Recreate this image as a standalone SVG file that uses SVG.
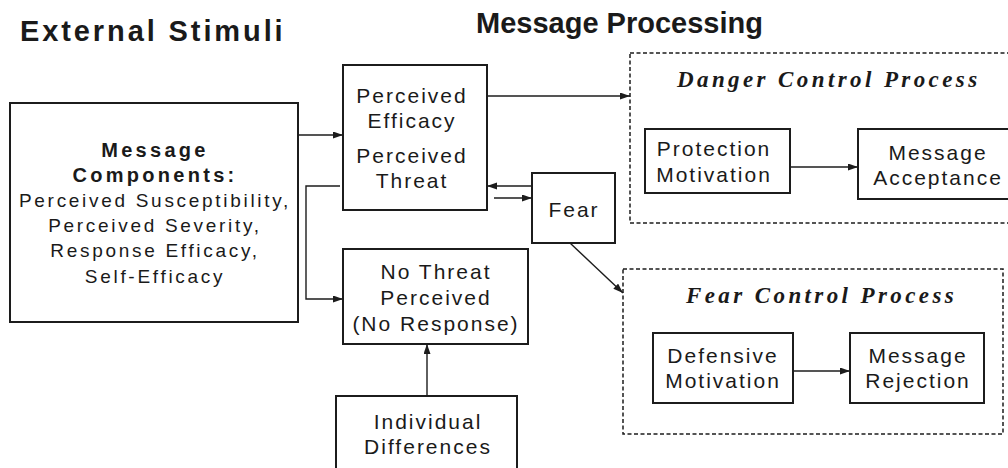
<svg xmlns="http://www.w3.org/2000/svg" width="1008" height="468" viewBox="0 0 1008 468">
<style>
  .box { fill: #ffffff; stroke: #1c1c1c; stroke-width: 2; }
  .dash { fill: none; stroke: #1c1c1c; stroke-width: 1.5; stroke-dasharray: 4 2.5; }
  .head { font-family: "Liberation Sans", Arial, sans-serif; font-weight: bold; font-size: 29px; fill: #1a1a1a; }
  .node { font-family: "Liberation Sans", Arial, sans-serif; font-size: 21px; letter-spacing: 2px; fill: #1a1a1a; text-anchor: middle; }
  .mc { font-family: "Liberation Sans", Arial, sans-serif; font-size: 19px; letter-spacing: 2.7px; fill: #1a1a1a; text-anchor: middle; }
  .mcb { font-family: "Liberation Sans", Arial, sans-serif; font-size: 20px; font-weight: bold; letter-spacing: 3.3px; fill: #1a1a1a; text-anchor: middle; }
  .title { font-family: "Liberation Serif", "Times New Roman", serif; font-size: 23px; font-weight: bold; font-style: italic; letter-spacing: 3.4px; fill: #1a1a1a; }
  .conn { fill: none; stroke: #1c1c1c; stroke-width: 1.4; }
</style>
<defs>
  <marker id="arr" markerUnits="userSpaceOnUse" markerWidth="11" markerHeight="8" refX="10" refY="3.5" orient="auto">
    <path d="M0,0 L10,3.5 L0,7 z" fill="#1c1c1c"/>
  </marker>
</defs>
<rect width="1008" height="468" fill="#ffffff"/>

<text class="head" x="20" y="41" letter-spacing="2.9">External Stimuli</text>
<text class="head" x="476" y="33" letter-spacing="0">Message Processing</text>

<g id="message-components">
  <rect class="box" x="10" y="103" width="288" height="219"/>
  <text class="mcb" x="155" y="157">Message</text>
  <text class="mcb" x="155" y="182">Components:</text>
  <text class="mc" x="155" y="207">Perceived Susceptibility,</text>
  <text class="mc" x="155" y="232">Perceived Severity,</text>
  <text class="mc" x="155" y="257">Response Efficacy,</text>
  <text class="mc" x="155" y="283">Self-Efficacy</text>
</g>

<g id="perceived">
  <rect class="box" x="343" y="65" width="144" height="145"/>
  <text class="node" x="412" y="103">Perceived</text>
  <text class="node" x="412" y="128">Efficacy</text>
  <text class="node" x="412" y="163">Perceived</text>
  <text class="node" x="412" y="188">Threat</text>
</g>

<g id="fear">
  <rect class="box" x="532" y="173" width="83" height="70"/>
  <text class="node" x="574" y="217">Fear</text>
</g>

<g id="no-threat">
  <rect class="box" x="343" y="249" width="185" height="95"/>
  <text class="node" x="436" y="279">No Threat</text>
  <text class="node" x="436" y="305">Perceived</text>
  <text class="node" x="436" y="331">(No Response)</text>
</g>

<g id="individual-differences">
  <rect class="box" x="336" y="396" width="181" height="80"/>
  <text class="node" x="428" y="429">Individual</text>
  <text class="node" x="428" y="454">Differences</text>
</g>

<g id="danger-control">
  <rect class="dash" x="630" y="53" width="385" height="170"/>
  <text class="title" x="677" y="87">Danger Control Process</text>
</g>

<g id="protection-motivation">
  <rect class="box" x="645" y="129" width="145" height="64"/>
  <text class="node" x="714" y="156">Protection</text>
  <text class="node" x="714" y="182">Motivation</text>
</g>

<g id="message-acceptance">
  <rect class="box" x="858" y="129" width="160" height="70"/>
  <text class="node" x="938" y="160">Message</text>
  <text class="node" x="938" y="185">Acceptance</text>
</g>

<g id="fear-control">
  <rect class="dash" x="623" y="269" width="380" height="165"/>
  <text class="title" x="686" y="303">Fear Control Process</text>
</g>

<g id="defensive-motivation">
  <rect class="box" x="653" y="333" width="140" height="70"/>
  <text class="node" x="723" y="363">Defensive</text>
  <text class="node" x="723" y="388">Motivation</text>
</g>

<g id="message-rejection">
  <rect class="box" x="850" y="333" width="134" height="70"/>
  <text class="node" x="918" y="363">Message</text>
  <text class="node" x="918" y="388">Rejection</text>
</g>

<g id="connectors">
  <line class="conn" x1="298" y1="135" x2="343" y2="135" marker-end="url(#arr)"/>
  <path class="conn" d="M340,186 H306 V299 H343" marker-end="url(#arr)"/>
  <line class="conn" x1="487" y1="96" x2="630" y2="96" marker-end="url(#arr)"/>
  <line class="conn" x1="532" y1="186" x2="487" y2="186" marker-end="url(#arr)"/>
  <line class="conn" x1="494" y1="198" x2="532" y2="198" marker-end="url(#arr)"/>
  <line class="conn" x1="570" y1="243" x2="623" y2="293" marker-end="url(#arr)"/>
  <line class="conn" x1="790" y1="167" x2="858" y2="167" marker-end="url(#arr)"/>
  <line class="conn" x1="793" y1="371" x2="850" y2="371" stroke-width="2.2" marker-end="url(#arr)"/>
  <line class="conn" x1="427" y1="396" x2="427" y2="344" marker-end="url(#arr)"/>
</g>
</svg>
